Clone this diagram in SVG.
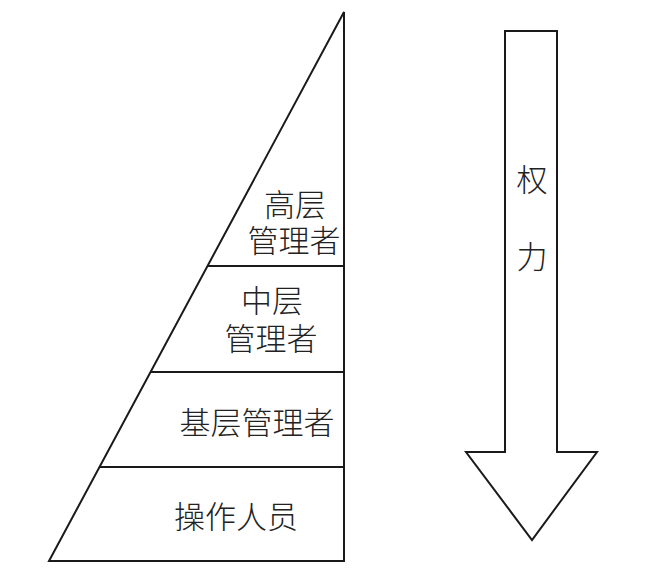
<svg xmlns="http://www.w3.org/2000/svg" width="655" height="573" viewBox="0 0 655 573">
<style>
.s{fill:#fff;stroke:#1a1a1a;stroke-width:2;stroke-linejoin:miter}
.l{stroke:#1a1a1a;stroke-width:2}
.t{font-family:"Liberation Serif","Noto Sans CJK SC",serif;font-size:31px;font-weight:300;fill:#222;text-anchor:middle}
</style>
<rect width="655" height="573" fill="#fff"/>
<g id="pyramid">
<polygon class="s" points="344,12 344,561 49,561"/>
</g>
<g id="connectors">
<line class="l" x1="207.5" y1="266" x2="344" y2="266"/>
<line class="l" x1="150" y1="372" x2="344" y2="372"/>
<line class="l" x1="99.5" y1="467" x2="344" y2="467"/>
</g>
<g id="top">
<text class="t" x="295" y="216">高层</text>
<text class="t" x="294" y="252">管理者</text>
</g>
<g id="middle">
<text class="t" x="272" y="312">中层</text>
<text class="t" x="271" y="350">管理者</text>
</g>
<g id="base">
<text class="t" x="257" y="434">基层管理者</text>
</g>
<g id="operators">
<text class="t" x="236" y="528">操作人员</text>
</g>
<g id="power">
<polygon class="s" points="505,31 557,31 557,452 597,452 532,540 466,452 505,452"/>
<text class="t" x="532" y="191">权</text>
<text class="t" x="532" y="268">力</text>
</g>
</svg>
